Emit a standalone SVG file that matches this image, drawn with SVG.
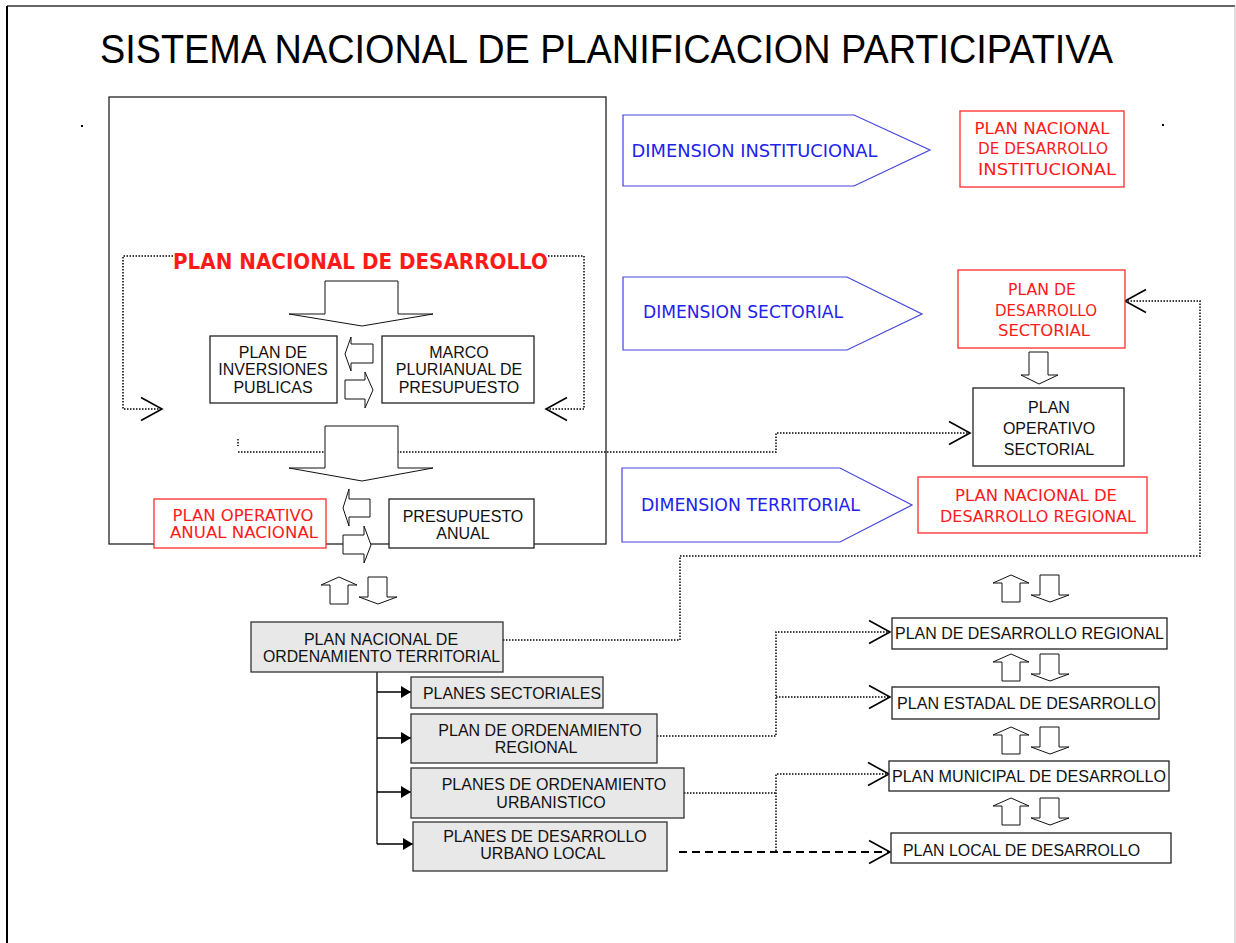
<svg xmlns="http://www.w3.org/2000/svg" width="1236" height="943" viewBox="0 0 1236 943">
<style>
.box{fill:#fff;stroke:#222;stroke-width:1.3}
.gbox{fill:#e8e8e8;stroke:#333;stroke-width:1.3}
.rbox{fill:#fff;stroke:#ff2a2a;stroke-width:1.3}
.pent{fill:#fff;stroke:#4444dd;stroke-width:1.2}
.blk{fill:#fff;stroke:#111;stroke-width:1}
.t{font-family:"Liberation Sans",Arial,sans-serif;font-size:16px;fill:#111;text-anchor:middle}
.tl{font-family:"Liberation Sans",Arial,sans-serif;font-size:16px;fill:#111}
.r{font-family:"DejaVu Sans","Noto Sans",sans-serif;font-size:15px;fill:#ff1a1a;text-anchor:middle}
.b{font-family:"DejaVu Sans","Noto Sans",sans-serif;font-size:17px;fill:#2222ee}
.dot{fill:none;stroke:#000;stroke-width:1.5;stroke-dasharray:1.5 1.5}
.dash{fill:none;stroke:#000;stroke-width:2;stroke-dasharray:8 5}
.solid{fill:none;stroke:#000;stroke-width:1.3}
</style>
<defs>
<marker id="open" markerUnits="userSpaceOnUse" markerWidth="24" markerHeight="26" refX="21" refY="12" orient="auto" overflow="visible">
<path d="M0,0.5 L21,12 L0,23.5" fill="none" stroke="#000" stroke-width="1.6" stroke-dasharray="none"/>
</marker>
<marker id="tri" markerUnits="userSpaceOnUse" markerWidth="11" markerHeight="12" refX="10" refY="6" orient="auto">
<path d="M0,0 L10,6 L0,12 z" fill="#000"/>
</marker>
<g id="updown">
<polygon class="blk" points="9,27 9,8 0,8 18,0 36,8 27,8 27,27"/>
<polygon class="blk" points="47,0 66,0 66,20 76,20 57,27 38,20 47,20"/>
</g>
</defs>

<g id="frame">
<line x1="7" y1="6" x2="1235" y2="6" stroke="#333" stroke-width="1.5"/>
<line x1="7" y1="6" x2="7" y2="943" stroke="#000" stroke-width="2"/>
<line x1="1235" y1="6" x2="1235" y2="943" stroke="#bbb" stroke-width="1"/>
<rect x="81" y="125" width="2" height="2" fill="#000"/>
<rect x="1162" y="124" width="2" height="2" fill="#000"/>
</g>

<text id="title" x="100" y="63" font-family="Liberation Sans, Arial, sans-serif" font-size="40" fill="#000" textLength="1013" lengthAdjust="spacingAndGlyphs">SISTEMA NACIONAL DE PLANIFICACION PARTICIPATIVA</text>

<g id="main-box"><rect x="109" y="97" width="497" height="447" fill="none" stroke="#222" stroke-width="1.3"/></g>

<g id="connectors">
<polyline class="dot" points="173,256 123,256 123,409 162,409" marker-end="url(#open)"/>
<polyline class="dot" points="548,256 584,256 584,409 546,409" marker-end="url(#open)"/>
<line class="dot" x1="238" y1="439" x2="238" y2="446"/>
<polyline class="dot" points="238,452 776,452 776,433 970,433" marker-end="url(#open)"/>
<polyline class="dot" points="503,640 680,640 680,556 1200,556 1200,301 1125,301" marker-end="url(#open)"/>
<polyline class="dot" points="657,736 776,736 776,632 890,632" marker-end="url(#open)"/>
<polyline class="dot" points="776,697 890,697" marker-end="url(#open)"/>
<polyline class="dot" points="684,793 776,793"/>
<polyline class="dot" points="776,851 776,774 889,774" marker-end="url(#open)"/>
<line class="dash" x1="679" y1="852" x2="890" y2="852" marker-end="url(#open)"/>
<line class="solid" x1="377" y1="672" x2="377" y2="844"/>
<line class="solid" x1="377" y1="692" x2="411" y2="692" marker-end="url(#tri)"/>
<line class="solid" x1="377" y1="738" x2="411" y2="738" marker-end="url(#tri)"/>
<line class="solid" x1="377" y1="792" x2="411" y2="792" marker-end="url(#tri)"/>
<line class="solid" x1="377" y1="844" x2="413" y2="844" marker-end="url(#tri)"/>
</g>

<g id="block-arrows">
<polygon class="blk" points="325,281 398,281 398,314 433,314 362,326 289,314 325,314"/>
<polygon class="blk" points="325,426 398,426 398,468 433,468 362,481 289,468 325,468"/>
<polygon class="blk" points="373,344 351,344 351,337 345,354 351,371 351,363 373,363"/>
<polygon class="blk" points="345,380 365,380 365,372 373,390 365,408 365,399 345,399"/>
<polygon class="blk" points="370,499 349,499 349,489 343,508 349,526 349,517 370,517"/>
<polygon class="blk" points="343,535 364,535 364,526 371,545 364,563 364,554 343,554"/>
<polygon class="blk" points="1029,352 1048,352 1048,375 1058,375 1039,384 1021,375 1029,375"/>
<use href="#updown" x="321" y="577"/>
<use href="#updown" x="993" y="575"/>
<use href="#updown" x="993" y="654"/>
<use href="#updown" x="993" y="727"/>
<use href="#updown" x="993" y="798"/>
</g>

<g id="pnd-title">
<text x="173" y="269" font-family="DejaVu Sans, Noto Sans, sans-serif" font-weight="bold" font-size="22" fill="#ff1a1a" textLength="375" lengthAdjust="spacingAndGlyphs">PLAN NACIONAL DE DESARROLLO</text>
</g>

<g id="pip">
<rect class="box" x="210" y="336" width="127" height="67"/>
<text class="t" x="273" y="358">PLAN DE</text>
<text class="t" x="273" y="375">INVERSIONES</text>
<text class="t" x="273" y="393">PUBLICAS</text>
</g>
<g id="mpp">
<rect class="box" x="382" y="336" width="152" height="67"/>
<text class="t" x="459" y="358">MARCO</text>
<text class="t" x="459" y="375">PLURIANUAL DE</text>
<text class="t" x="459" y="393">PRESUPUESTO</text>
</g>
<g id="poan">
<rect class="rbox" x="154" y="499" width="172" height="49"/>
<text class="r" x="243" y="521" textLength="141" lengthAdjust="spacingAndGlyphs">PLAN OPERATIVO</text>
<text class="r" x="244" y="538" textLength="148" lengthAdjust="spacingAndGlyphs">ANUAL NACIONAL</text>
</g>
<g id="pa">
<rect class="box" x="389" y="499" width="145" height="49"/>
<text class="t" x="463" y="522">PRESUPUESTO</text>
<text class="t" x="463" y="539">ANUAL</text>
</g>

<g id="dim-inst">
<polygon class="pent" points="623,115 854,115 930,150 854,186 623,186"/>
<text class="b" x="631.5" y="157" textLength="246" lengthAdjust="spacingAndGlyphs">DIMENSION INSTITUCIONAL</text>
</g>
<g id="pndi">
<rect class="rbox" x="960" y="111" width="164" height="76"/>
<text class="r" x="1042" y="134" textLength="135" lengthAdjust="spacingAndGlyphs">PLAN NACIONAL</text>
<text class="r" x="1043" y="154" textLength="130" lengthAdjust="spacingAndGlyphs">DE DESARROLLO</text>
<text class="r" x="1047" y="175" textLength="138" lengthAdjust="spacingAndGlyphs">INSTITUCIONAL</text>
</g>
<g id="dim-sect">
<polygon class="pent" points="623,277 847,277 922,314 847,350 623,350"/>
<text class="b" x="643" y="318" textLength="200" lengthAdjust="spacingAndGlyphs">DIMENSION SECTORIAL</text>
</g>
<g id="pds">
<rect class="rbox" x="958" y="270" width="167" height="78"/>
<text class="r" x="1042" y="295" textLength="68" lengthAdjust="spacingAndGlyphs">PLAN DE</text>
<text class="r" x="1046" y="316" textLength="102" lengthAdjust="spacingAndGlyphs">DESARROLLO</text>
<text class="r" x="1044" y="336" textLength="92" lengthAdjust="spacingAndGlyphs">SECTORIAL</text>
</g>
<g id="pos">
<rect class="box" x="973" y="388" width="151" height="78"/>
<text class="t" x="1049" y="413">PLAN</text>
<text class="t" x="1049" y="434">OPERATIVO</text>
<text class="t" x="1049" y="455">SECTORIAL</text>
</g>
<g id="dim-terr">
<polygon class="pent" points="622,468 840,468 912,505 840,542 622,542"/>
<text class="b" x="641" y="511" textLength="219" lengthAdjust="spacingAndGlyphs">DIMENSION TERRITORIAL</text>
</g>
<g id="pndr">
<rect class="rbox" x="918" y="477" width="229" height="56"/>
<text class="r" x="1036" y="501" textLength="162" lengthAdjust="spacingAndGlyphs">PLAN NACIONAL DE</text>
<text class="r" x="1038" y="522" textLength="196" lengthAdjust="spacingAndGlyphs">DESARROLLO REGIONAL</text>
</g>

<g id="pnot">
<rect class="gbox" x="251" y="622" width="252" height="50"/>
<text class="t" x="381" y="645">PLAN NACIONAL DE</text>
<text class="t" x="381.5" y="662" textLength="237" lengthAdjust="spacingAndGlyphs">ORDENAMIENTO TERRITORIAL</text>
</g>
<g id="ps">
<rect class="gbox" x="411" y="677" width="192" height="31"/>
<text class="tl" x="423" y="699" textLength="178" lengthAdjust="spacingAndGlyphs">PLANES SECTORIALES</text>
</g>
<g id="por">
<rect class="gbox" x="411" y="714" width="246" height="49"/>
<text class="t" x="540" y="736">PLAN DE ORDENAMIENTO</text>
<text class="t" x="536" y="753">REGIONAL</text>
</g>
<g id="pou">
<rect class="gbox" x="411" y="768" width="273" height="50"/>
<text class="t" x="554" y="790">PLANES DE ORDENAMIENTO</text>
<text class="t" x="551" y="808">URBANISTICO</text>
</g>
<g id="pdul">
<rect class="gbox" x="413" y="822" width="254" height="49"/>
<text class="t" x="545" y="842">PLANES DE DESARROLLO</text>
<text class="t" x="543" y="859">URBANO LOCAL</text>
</g>

<g id="pdr">
<rect class="box" x="892" y="618" width="275" height="31"/>
<text class="tl" x="895" y="639" textLength="269" lengthAdjust="spacingAndGlyphs">PLAN DE DESARROLLO REGIONAL</text>
</g>
<g id="ped">
<rect class="box" x="892" y="687" width="267" height="32"/>
<text class="tl" x="897" y="709" textLength="259" lengthAdjust="spacingAndGlyphs">PLAN ESTADAL DE DESARROLLO</text>
</g>
<g id="pmd">
<rect class="box" x="889" y="761" width="280" height="30"/>
<text class="tl" x="892" y="782" textLength="274" lengthAdjust="spacingAndGlyphs">PLAN MUNICIPAL DE DESARROLLO</text>
</g>
<g id="pld">
<rect class="box" x="891" y="833" width="280" height="30"/>
<text class="tl" x="903" y="856" textLength="237" lengthAdjust="spacingAndGlyphs">PLAN LOCAL DE DESARROLLO</text>
</g>
</svg>
